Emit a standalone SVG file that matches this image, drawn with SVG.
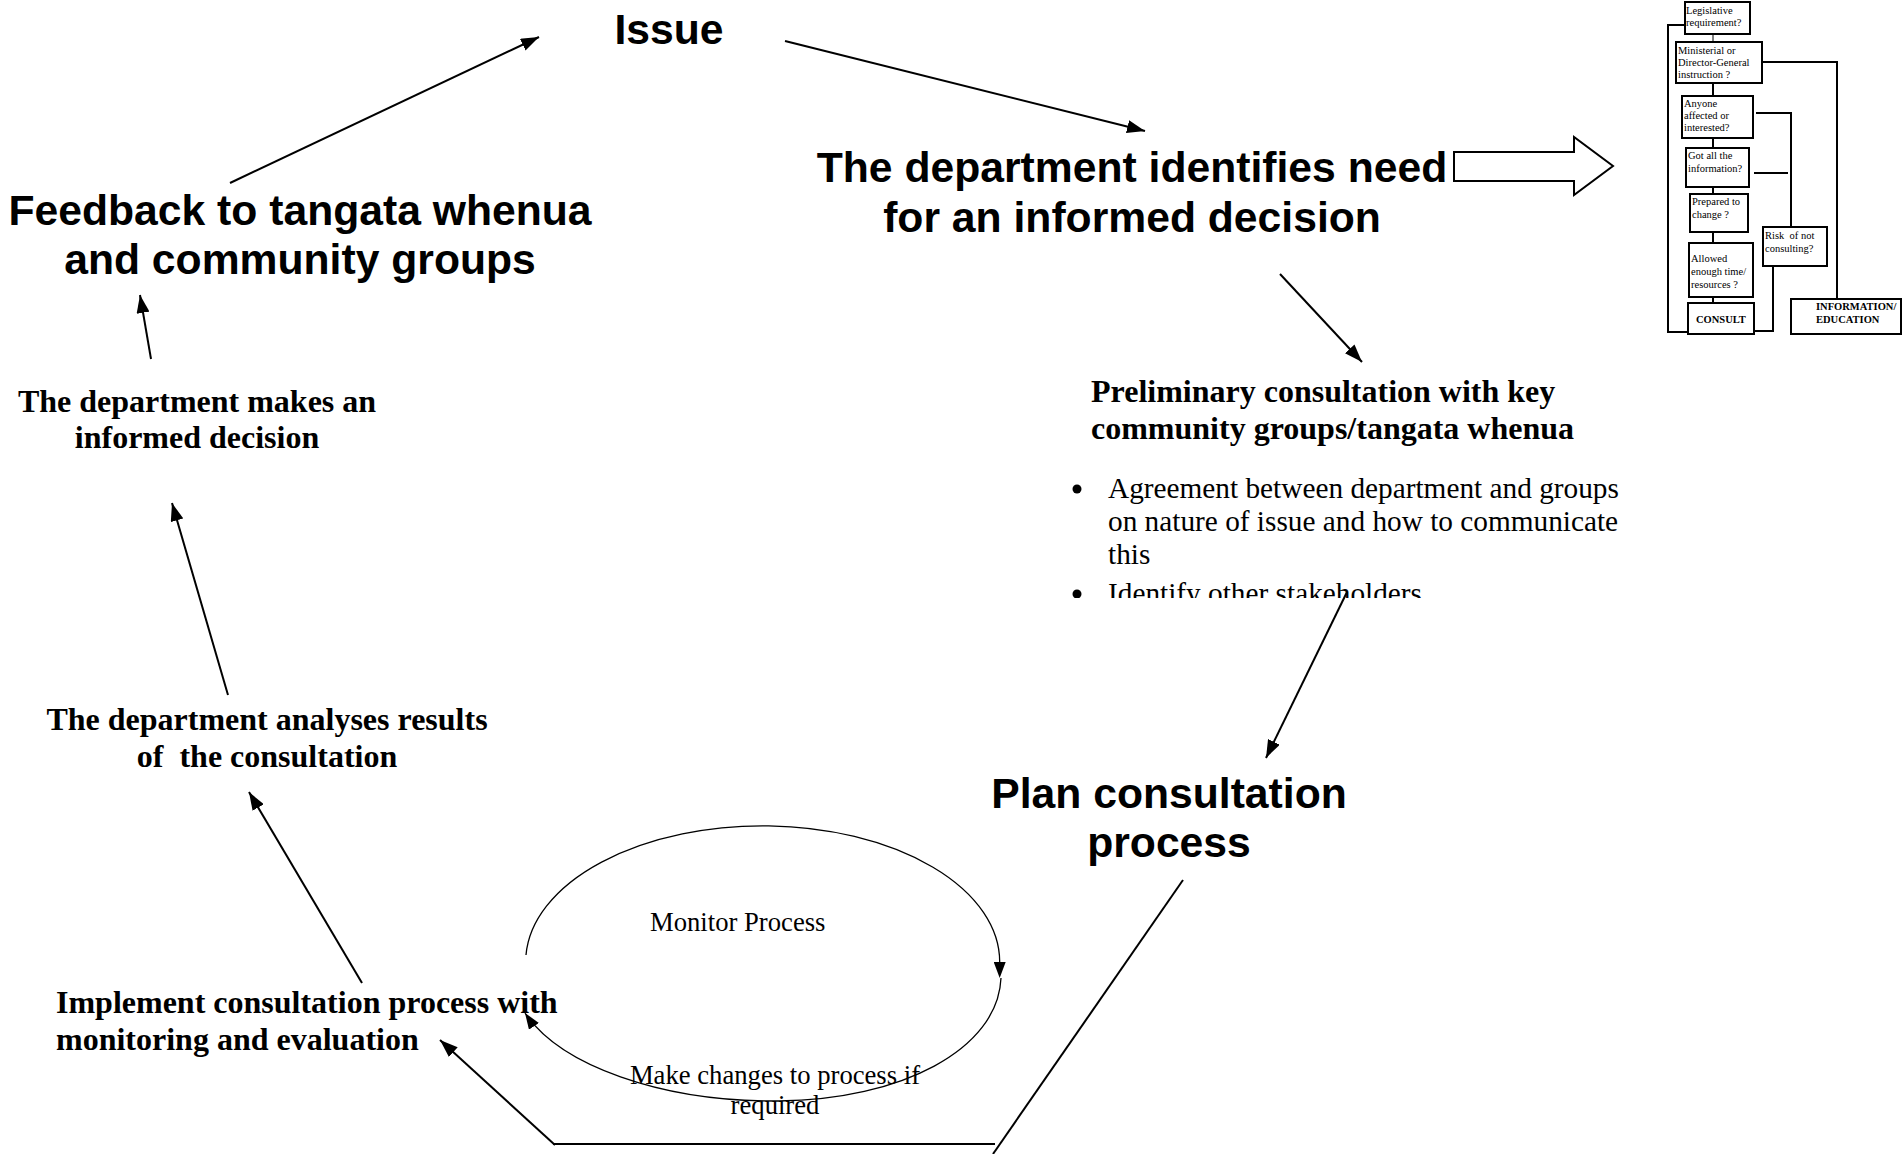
<svg xmlns="http://www.w3.org/2000/svg" width="1903" height="1154" viewBox="0 0 1903 1154">
<style>
.sb{font-family:"Liberation Sans",Arial,sans-serif;font-weight:bold;font-size:42.67px;fill:#000}
.tb{font-family:"Liberation Serif","Times New Roman",serif;font-weight:bold;font-size:32px;fill:#000}
.tr{font-family:"Liberation Serif","Times New Roman",serif;font-size:29.3px;fill:#000}
.tm{font-family:"Liberation Serif","Times New Roman",serif;font-size:26.67px;fill:#000}
.fs{font-family:"Liberation Serif","Times New Roman",serif;font-size:10.5px;fill:#000}
.fsb{font-family:"Liberation Serif","Times New Roman",serif;font-size:10.5px;font-weight:bold;fill:#000}
.ln{stroke:#000;stroke-width:2;fill:none}
.lt{stroke:#000;stroke-width:1.3;fill:none}
.box{stroke:#000;stroke-width:2;fill:#fff}
.fl{stroke:#000;stroke-width:2;fill:none}
.bul{fill:#000}
</style>
<defs>
<marker id="ah" markerUnits="userSpaceOnUse" markerWidth="18" markerHeight="13" refX="18" refY="6.5" orient="auto">
<path d="M0,0 L18,6.5 L0,13 z" fill="#000"/>
</marker>
<marker id="as" markerUnits="userSpaceOnUse" markerWidth="16" markerHeight="12" refX="0" refY="6" orient="auto">
<path d="M0,0 L16,6 L0,12 z" fill="#000"/>
</marker>
<marker id="as2" markerUnits="userSpaceOnUse" markerWidth="16" markerHeight="12" refX="16" refY="6" orient="auto">
<path d="M0,0 L16,6 L0,12 z" fill="#000"/>
</marker>
<clipPath id="clipId"><rect x="1000" y="560" width="700" height="38"/></clipPath>
<clipPath id="clipGot"><rect x="1686" y="148" width="63" height="38"/></clipPath>
</defs>

<g id="connectors">
<line class="ln" x1="230" y1="183" x2="539" y2="37" marker-end="url(#ah)"/>
<line class="ln" x1="785" y1="41" x2="1145" y2="131" marker-end="url(#ah)"/>
<line class="ln" x1="1280" y1="274" x2="1362" y2="362" marker-end="url(#ah)"/>
<line class="ln" x1="1347" y1="592" x2="1266" y2="758" marker-end="url(#ah)"/>
<line class="ln" x1="151" y1="359" x2="140" y2="295" marker-end="url(#ah)"/>
<line class="ln" x1="228" y1="695" x2="172" y2="503" marker-end="url(#ah)"/>
<line class="ln" x1="362" y1="983" x2="249" y2="792" marker-end="url(#ah)"/>
<line class="ln" x1="1183" y1="880" x2="993" y2="1154"/>
<line class="ln" x1="553" y1="1144" x2="995" y2="1144"/>
<line class="ln" x1="555" y1="1145" x2="440" y2="1040" stroke-width="2.5" marker-end="url(#ah)"/>
<path class="lt" d="M 526 955 A 237 136 0 0 1 999.7 962" marker-end="url(#as)"/>
<path class="lt" d="M 1001 978 C 998 1050, 900 1100, 779 1101 C 660 1102, 560 1065, 525 1013" marker-end="url(#as2)"/>
<polygon points="1454,152 1574,152 1574,137 1613,166 1574,195 1574,181 1454,181" fill="#fff" stroke="#000" stroke-width="2"/>
</g>

<g id="issue"><text class="sb" x="669" y="44" text-anchor="middle">Issue</text></g>

<g id="dept-identifies">
<text class="sb" x="1132" y="182" text-anchor="middle">The department identifies need</text>
<text class="sb" x="1132" y="232" text-anchor="middle">for an informed decision</text>
</g>

<g id="feedback">
<text class="sb" x="300" y="225" text-anchor="middle">Feedback to tangata whenua</text>
<text class="sb" x="300" y="274" text-anchor="middle">and community groups</text>
</g>

<g id="makes-decision">
<text class="tb" x="197" y="412" text-anchor="middle">The department makes an</text>
<text class="tb" x="197" y="448" text-anchor="middle">informed decision</text>
</g>

<g id="analyses">
<text class="tb" x="267" y="730" text-anchor="middle">The department analyses results</text>
<text class="tb" x="267" y="767" text-anchor="middle" xml:space="preserve">of  the consultation</text>
</g>

<g id="implement">
<text class="tb" x="56" y="1013">Implement consultation process with</text>
<text class="tb" x="56" y="1050">monitoring and evaluation</text>
</g>

<g id="preliminary">
<text class="tb" x="1091" y="402">Preliminary consultation with key</text>
<text class="tb" x="1091" y="439">community groups/tangata whenua</text>
<circle class="bul" cx="1077" cy="489" r="4.5"/>
<text class="tr" x="1108" y="498">Agreement between department and groups</text>
<text class="tr" x="1108" y="531">on nature of issue and how to communicate</text>
<text class="tr" x="1108" y="564">this</text>
<g clip-path="url(#clipId)">
<circle class="bul" cx="1077" cy="594" r="4.5"/>
<text class="tr" x="1108" y="603">Identify other stakeholders</text>
</g>
</g>

<g id="plan">
<text class="sb" x="1169" y="808" text-anchor="middle">Plan consultation</text>
<text class="sb" x="1169" y="857" text-anchor="middle">process</text>
</g>

<g id="monitor">
<text class="tm" x="650" y="931">Monitor Process</text>
<text class="tm" x="775" y="1084" text-anchor="middle">Make changes to process if</text>
<text class="tm" x="775" y="1114" text-anchor="middle">required</text>
</g>

<g id="flowchart">
<g id="fc-lines">
<polyline class="fl" points="1685,25 1668,25 1668,332 1688,332"/>
<polyline class="fl" points="1762,62 1837,62 1837,299"/>
<polyline class="fl" points="1756,113 1791,113 1791,227"/>
<line class="fl" x1="1754" y1="173" x2="1788" y2="173"/>
<polyline class="fl" points="1773,266 1773,331 1754,331"/>
<line stroke="#000" stroke-width="1" x1="1713" y1="35" x2="1713" y2="42"/>
<line class="fl" x1="1713" y1="83" x2="1713" y2="96"/>
<line class="fl" x1="1713" y1="138" x2="1713" y2="148"/>
<line class="fl" x1="1713" y1="187" x2="1713" y2="194"/>
<line class="fl" x1="1713" y1="232" x2="1713" y2="243"/>
<line class="fl" x1="1713" y1="297" x2="1713" y2="303"/>
</g>
<g id="fc-legislative"><rect class="box" x="1685" y="2" width="65" height="32"/>
<text class="fs" x="1686" y="14">Legislative</text><text class="fs" x="1686" y="26">requirement?</text></g>
<g id="fc-ministerial"><rect class="box" x="1676" y="42" width="86" height="41"/>
<text class="fs" x="1678" y="54">Ministerial or</text><text class="fs" x="1678" y="66">Director-General</text><text class="fs" x="1678" y="78">instruction ?</text></g>
<g id="fc-anyone"><rect class="box" x="1682" y="96" width="71" height="42"/>
<text class="fs" x="1684" y="107">Anyone</text><text class="fs" x="1684" y="119">affected or</text><text class="fs" x="1684" y="131">interested?</text></g>
<g id="fc-gotall"><rect class="box" x="1686" y="148" width="63" height="39"/>
<text class="fs" x="1688" y="159">Got all the</text><text class="fs" x="1688" y="172">information?</text>
<text class="fs" x="1688" y="191" clip-path="url(#clipGot)">o</text></g>
<g id="fc-prepared"><rect class="box" x="1690" y="194" width="58" height="38"/>
<text class="fs" x="1692" y="205">Prepared to</text><text class="fs" x="1692" y="218">change ?</text></g>
<g id="fc-allowed"><rect class="box" x="1689" y="243" width="64" height="54"/>
<text class="fs" x="1691" y="262">Allowed</text><text class="fs" x="1691" y="275">enough time/</text><text class="fs" x="1691" y="288">resources ?</text></g>
<g id="fc-consult"><rect class="box" x="1688" y="303" width="66" height="31"/>
<text class="fsb" x="1696" y="323">CONSULT</text></g>
<g id="fc-risk"><rect class="box" x="1763" y="227" width="64" height="39"/>
<text class="fs" x="1765" y="239" xml:space="preserve">Risk  of not</text><text class="fs" x="1765" y="252">consulting?</text></g>
<g id="fc-info"><rect class="box" x="1791" y="299" width="110" height="35"/>
<text class="fsb" x="1816" y="310">INFORMATION/</text><text class="fsb" x="1816" y="323">EDUCATION</text></g>
</g>
</svg>
